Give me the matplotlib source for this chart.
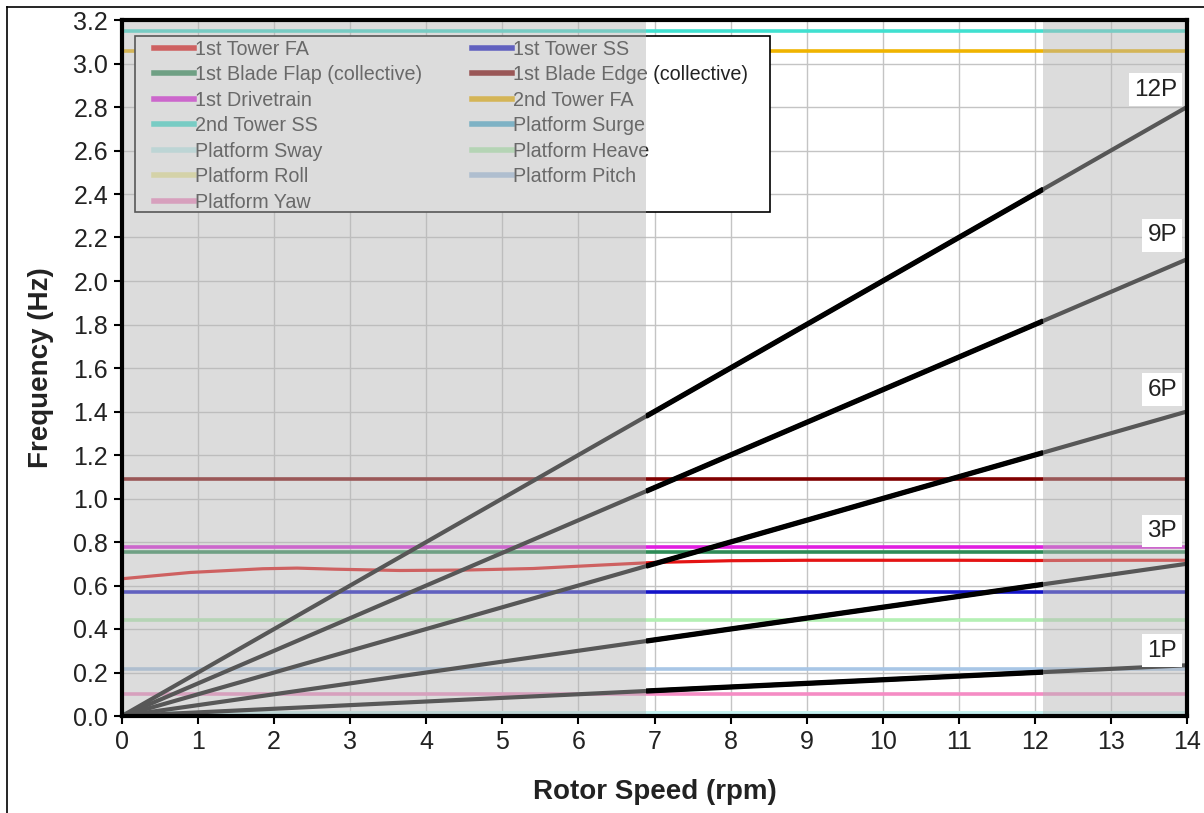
import matplotlib
matplotlib.use("Agg")
import matplotlib.pyplot as plt
from matplotlib.lines import Line2D
from matplotlib.patches import Rectangle

plt.rcParams['font.family'] = ['Liberation Sans', 'DejaVu Sans']

# ---- data ----
rpm_range = [0, 14]
op_min, op_max = 6.89, 12.11          # operating rotor-speed range (white band)

harmonics = [1, 3, 6, 9, 12]
harmonic_labels = ["1P", "3P", "6P", "9P", "12P"]
harmonic_label_y = [0.30, 0.85, 1.50, 2.21, 2.88]

tower_fa_rpm = [0, 0.9, 1.85, 2.3, 2.8, 3.65, 4.5, 5.4, 6.3, 7.0, 8.0, 9, 10, 11, 12, 13, 14]
tower_fa_hz = [0.631, 0.660, 0.677, 0.680, 0.675, 0.669, 0.671, 0.678, 0.694, 0.706,
               0.714, 0.716, 0.716, 0.716, 0.715, 0.716, 0.716]

mode_names = ["1st Tower SS", "1st Blade Flap (collective)", "1st Blade Edge (collective)",
              "1st Drivetrain", "2nd Tower FA", "2nd Tower SS", "Platform Surge",
              "Platform Sway", "Platform Heave", "Platform Roll", "Platform Pitch", "Platform Yaw"]
mode_freqs = [0.572, 0.752, 1.090, 0.775, 3.057, 3.150, 0.010,
              0.014, 0.442, 0.012, 0.218, 0.100]
mode_colors = ["#1414c8", "#2e8b57", "#800000", "#e01ee0", "#f0b400", "#40e0d0", "#4aaed2",
               "#c4f2f2", "#b4f0b4", "#f0ec9c", "#a8c6e6", "#f58cc4"]

legend_order = ["1st Tower FA", "1st Tower SS", "1st Blade Flap (collective)",
                "1st Blade Edge (collective)", "1st Drivetrain", "2nd Tower FA",
                "2nd Tower SS", "Platform Surge", "Platform Sway", "Platform Heave",
                "Platform Roll", "Platform Pitch", "Platform Yaw"]

xticks = list(range(0, 15))
yticks = [round(0.2 * i, 1) for i in range(17)]

# ---- figure ----
W, H = 1204, 813
fig = plt.figure(figsize=(W / 100, H / 100), dpi=100)
ax = fig.add_axes([122 / W, 1 - 716 / H, (1187 - 122) / W, (716 - 20) / H])

def ax_x(px):
    return (px - 122) / (1187 - 122)

def ax_y(py):
    return (716 - py) / (716 - 20)

handles = {}
h, = ax.plot(tower_fa_rpm, tower_fa_hz, color="#e41414", lw=2.3, zorder=3, solid_capstyle='butt')
handles["1st Tower FA"] = h
for name, f, c in zip(mode_names, mode_freqs, mode_colors):
    lw = 3.5 if name == "Platform Sway" else 2.6
    z = 2.9 if name == "Platform Sway" else 2.5
    h, = ax.plot(rpm_range, [f, f], color=c, lw=lw, zorder=z, solid_capstyle='butt')
    handles[name] = h

# harmonic excitation lines
for n in harmonics:
    fr = [r * n / 60.0 for r in rpm_range]
    ax.plot(rpm_range, fr, color="black", lw=3.0, zorder=4, solid_capstyle='butt')
    seg = [op_min, op_max]
    ax.plot(seg, [r * n / 60.0 for r in seg], color="black", lw=3.8, zorder=4.5,
            solid_capstyle='butt')

for lab, yv in zip(harmonic_labels, harmonic_label_y):
    ax.text(13.87, yv, lab, ha="right", va="center", fontsize=17.5, color="#222222",
            zorder=8, bbox=dict(boxstyle="square,pad=0.22", fc="white", ec="none"))

# gray shaded (out-of-range) regions drawn over lines & legend
for a, b in [(rpm_range[0], op_min), (op_max, rpm_range[1])]:
    ax.axvspan(a, b, color="#b7b7b7", alpha=0.48, lw=0, zorder=6)

ax.set_xlim(0, 14)
ax.set_ylim(0, 3.2)
ax.set_xticks(xticks)
ax.set_yticks(yticks)
ax.set_yticklabels([f"{v:.1f}" for v in yticks])
ax.grid(True, color="#c4c4c4", lw=1.0, zorder=0)
ax.set_axisbelow(True)
ax.tick_params(axis="both", direction="out", length=6, width=1.5, labelsize=18,
               labelcolor="#222222", pad=4)
for s in ax.spines.values():
    s.set_linewidth(3)
    s.set_color("black")
    s.set_zorder(9)

ax.set_xlabel("Rotor Speed (rpm)", fontsize=20, fontweight="bold", color="#222222", labelpad=18)
ax.set_ylabel("Frequency (Hz)", fontsize=20, fontweight="bold", color="#222222", labelpad=14)

# legend frame (drawn separately to match the reference box)
ax.add_patch(Rectangle((ax_x(135), ax_y(212)), ax_x(770) - ax_x(135), ax_y(36) - ax_y(212),
                       transform=ax.transAxes, fc="white", ec="black", lw=1.2,
                       zorder=5, clip_on=False))

# legend, row-major order in 2 columns
hl = [handles[n] for n in legend_order]
order = list(range(0, 13, 2)) + list(range(1, 13, 2))
leg_handles = [Line2D([0], [0], color=hl[i].get_color(), lw=4) for i in order]
leg_labels = [legend_order[i] for i in order]
leg = ax.legend(leg_handles, leg_labels, ncol=2, loc="upper left",
                bbox_to_anchor=(ax_x(154), ax_y(39.5)),
                borderaxespad=0, borderpad=0, fontsize=14.2, frameon=False,
                handlelength=2.05, handletextpad=0.05,
                labelspacing=0.33, columnspacing=2.5)
for t in leg.get_texts():
    t.set_color("#222222")
leg.set_zorder(5.5)

# outer border (left and top)
fig.add_artist(Line2D([7 / W, 7 / W], [0, 1 - 7 / H], color="black", lw=1.2))
fig.add_artist(Line2D([7 / W, 1], [1 - 7 / H, 1 - 7 / H], color="black", lw=1.2))

fig.savefig("out.png", dpi=100, facecolor="white")
